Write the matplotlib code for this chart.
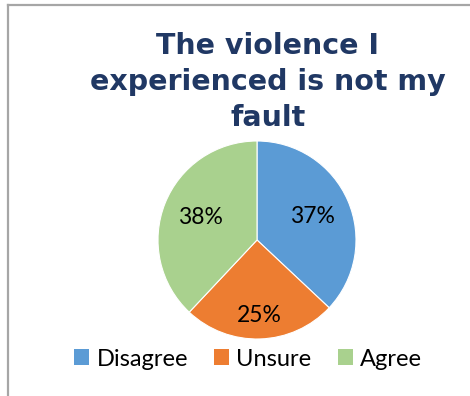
import numpy as np
import matplotlib
matplotlib.use("Agg")
import matplotlib.pyplot as plt
from matplotlib.patches import Patch
from matplotlib.lines import Line2D

# Survey responses
categories = ["Disagree", "Unsure", "Agree"]
shares = [37, 25, 38]
colors = ["#5B9BD5", "#ED7D31", "#A9D18E"]
title = "The violence I\nexperienced is not my\nfault"

W, H = 470, 396
fig = plt.figure(figsize=(W / 100, H / 100), dpi=100)
fig.patch.set_facecolor("white")

# Chart frame (top and left edges)
frame_col = "#A6A6A6"
fig.add_artist(Line2D([8 / W, 8 / W], [0, 1 - 4.5 / H], color=frame_col, lw=1.6,
                      transform=fig.transFigure))
fig.add_artist(Line2D([8 / W, 1], [1 - 4.5 / H, 1 - 4.5 / H], color=frame_col, lw=1.6,
                      transform=fig.transFigure))

# Pie area
cx, cy, r = 257, 240, 99
ax = fig.add_axes([(cx - r) / W, (H - cy - r) / H, 2 * r / W, 2 * r / H])
wedges, texts, autotexts = ax.pie(
    shares, colors=colors, startangle=90, counterclock=False,
    autopct=lambda p: f"{p:.0f}%", pctdistance=0.61,
    wedgeprops=dict(edgecolor="white", linewidth=0.8),
    textprops=dict(fontsize=16.5, family="Lato", color="black"),
)
ax.set_xlim(-1, 1)
ax.set_ylim(-1, 1)
ax.set_aspect("equal")

# Push the small slice's label further out
w = wedges[1]
mid = np.deg2rad((w.theta1 + w.theta2) / 2)
autotexts[1].set_position((0.76 * np.cos(mid), 0.76 * np.sin(mid)))

# Title
fig.text(268 / W, 1 - 82 / H, title, ha="center", va="center", fontsize=20.5,
         fontweight="bold", family="DejaVu Sans", color="#203864", linespacing=1.37)

# Legend
handles = [Patch(facecolor=c, edgecolor="none") for c in colors]
fig.legend(handles, categories, loc="center", bbox_to_anchor=(248 / W, 1 - 359 / H),
           ncol=3, frameon=False, prop=dict(family="Lato", size=17),
           handlelength=0.65, handleheight=0.65, handletextpad=0.3,
           columnspacing=1.1, borderpad=0)

fig.savefig("out.png", dpi=100, facecolor="white")
